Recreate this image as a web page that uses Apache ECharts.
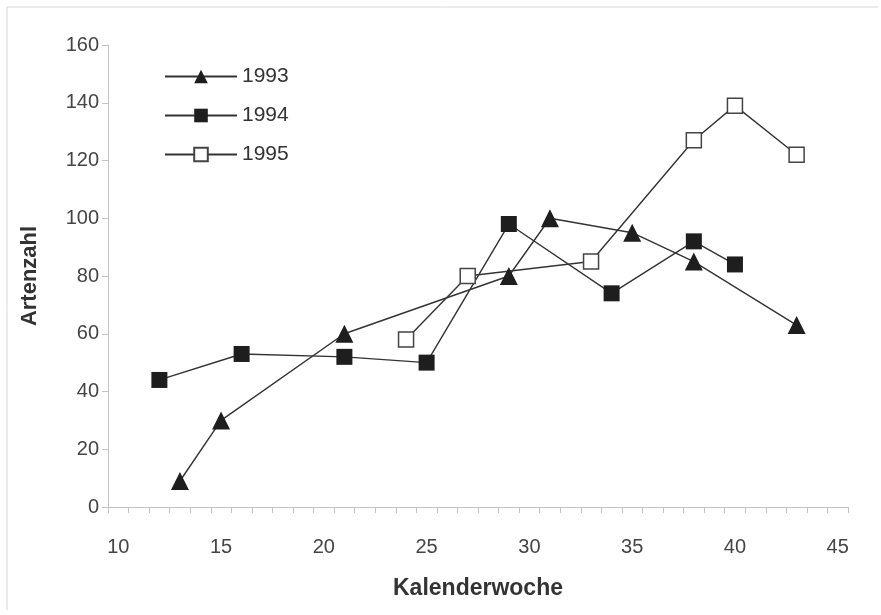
<!DOCTYPE html>
<html>
<head>
<meta charset="utf-8">
<script src="https://cdn.jsdelivr.net/npm/echarts@6/dist/echarts.min.js"></script>
<style>
html,body{margin:0;padding:0;background:#fff;}
#chart{width:881px;height:615px;}
</style>
</head>
<body>
<div id="chart"></div>
<script>
// Data
const weeks1993 = [13, 15, 21, 29, 31, 35, 38, 43];
const values1993 = [9, 30, 60, 80, 100, 95, 85, 63];
const weeks1994 = [12, 16, 21, 25, 29, 34, 38, 40];
const values1994 = [44, 53, 52, 50, 98, 74, 92, 84];
const weeks1995 = [24, 27, 33, 38, 40, 43];
const values1995 = [58, 80, 85, 127, 139, 122];
const xTickLabels = [10, 15, 20, 25, 30, 35, 40, 45];
const xTickMarks = [];
for (let i = 0; i <= 36; i++) xTickMarks.push(9.5 + i);

const pairs = (xs, ys) => xs.map((x, i) => [x, ys[i]]);

const chart = echarts.init(document.getElementById('chart'));
const lineColor = '#333333';
const font = 'Liberation Sans, Arial, sans-serif';
chart.setOption({
  backgroundColor: '#ffffff',
  animation: false,
  graphic: [
    {type: 'line', shape: {x1: 7, y1: 7, x2: 878, y2: 7}, style: {stroke: '#d8d8d8', lineWidth: 1}},
    {type: 'line', shape: {x1: 7, y1: 7, x2: 7, y2: 610}, style: {stroke: '#d8d8d8', lineWidth: 1}}
  ],
  grid: {left: 108, right: 33, top: 45, bottom: 108, containLabel: false},
  legend: {
    orient: 'vertical',
    left: 159,
    top: 61,
    itemWidth: 72,
    itemHeight: 17,
    itemGap: 18,
    textStyle: {fontFamily: font, fontSize: 21, color: '#333'},
    data: ['1993', '1994', '1995']
  },
  xAxis: {
    type: 'value',
    min: 9.5,
    max: 45.5,
    name: 'Kalenderwoche',
    nameLocation: 'middle',
    nameGap: 70,
    nameTextStyle: {fontFamily: font, fontSize: 23, fontWeight: 'bold', color: '#333'},
    axisLine: {show: true, lineStyle: {color: '#c4c4c4', width: 1}},
    axisTick: {show: true, length: 6, inside: false, customValues: xTickMarks, lineStyle: {color: '#c4c4c4'}},
    axisLabel: {customValues: xTickLabels, margin: 30, fontFamily: font, fontSize: 20, color: '#444'},
    splitLine: {show: false}
  },
  yAxis: {
    type: 'value',
    min: 0,
    max: 160,
    interval: 20,
    name: 'Artenzahl',
    nameLocation: 'middle',
    nameGap: 67,
    nameTextStyle: {fontFamily: font, fontSize: 22, fontWeight: 'bold', color: '#333'},
    axisLine: {show: true, lineStyle: {color: '#c4c4c4', width: 1}},
    axisTick: {show: true, length: 6, inside: false, lineStyle: {color: '#c4c4c4'}},
    axisLabel: {margin: 9, fontFamily: font, fontSize: 20, color: '#444'},
    splitLine: {show: false}
  },
  series: [
    {
      name: '1993', type: 'line', data: pairs(weeks1993, values1993),
      symbol: 'triangle', symbolSize: 18,
      lineStyle: {color: lineColor, width: 1.4},
      itemStyle: {color: '#1e1e1e', borderColor: '#1e1e1e', borderWidth: 0}
    },
    {
      name: '1994', type: 'line', data: pairs(weeks1994, values1994),
      symbol: 'rect', symbolSize: 16,
      lineStyle: {color: lineColor, width: 1.4},
      itemStyle: {color: '#1e1e1e', borderColor: '#1e1e1e', borderWidth: 0}
    },
    {
      name: '1995', type: 'line', data: pairs(weeks1995, values1995),
      symbol: 'rect', symbolSize: 15,
      lineStyle: {color: lineColor, width: 1.4},
      itemStyle: {color: '#ffffff', borderColor: '#444', borderWidth: 1.5}
    }
  ]
});
</script>
</body>
</html>
